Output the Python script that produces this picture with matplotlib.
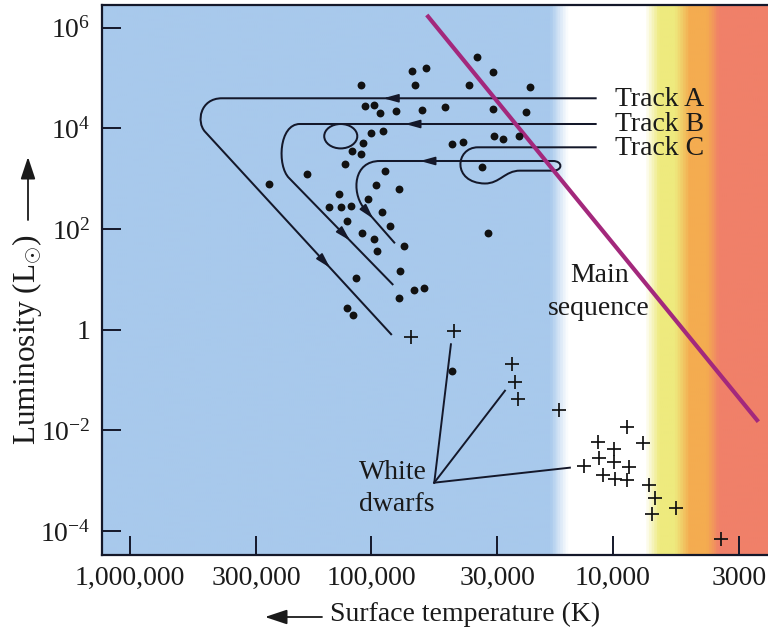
import numpy as np
import matplotlib
matplotlib.use("Agg")
import matplotlib.pyplot as plt
from matplotlib.path import Path
from matplotlib.patches import PathPatch, FancyArrowPatch
from matplotlib.colors import LinearSegmentedColormap, to_rgb

plt.rcParams['font.family'] = ['Liberation Serif', 'DejaVu Serif', 'DejaVu Sans']
plt.rcParams['mathtext.fontset'] = 'custom'
plt.rcParams['mathtext.rm'] = 'Liberation Serif'
plt.rcParams['mathtext.it'] = 'Liberation Serif:italic'
plt.rcParams['mathtext.bf'] = 'Liberation Serif:bold'

# ---------------- data (log10 temperature [K], log10 luminosity [Lsun]) ----------------
x_ticks = [1e6, 3e5, 1e5, 3e4, 1e4, 3e3]
x_ticklabels = ['1,000,000', '300,000', '100,000', '30,000', '10,000', '3000']
y_ticks = [1e6, 1e4, 1e2, 1, 1e-2, 1e-4]
y_ticklabels = [r'$\mathregular{10^{6}}$', r'$\mathregular{10^{4}}$', r'$\mathregular{10^{2}}$',
                '1', r'$\mathregular{10^{-2}}$', r'$\mathregular{10^{-4}}$']
x_limits_log = [6.118, 3.356]
y_limits_log = [-4.476, 6.45]

star_logT = [4.563, 4.833, 4.775, 4.494, 5.043, 4.820, 4.594, 4.342, 5.026, 4.988,
             4.964, 4.899, 4.791, 4.693, 4.497, 4.359, 5.002, 4.950, 4.490, 4.453,
             4.387, 4.667, 4.619, 5.036, 5.081, 5.043, 5.109, 4.542, 5.265, 5.425,
             4.944, 4.979, 4.884, 5.133, 5.015, 5.174, 5.127, 5.083, 4.957, 5.099,
             4.922, 5.040, 4.988, 4.518, 4.864, 4.975, 4.881, 5.063, 4.823, 4.782,
             4.885, 5.102, 5.077, 4.667]
star_logL = [5.423, 5.145, 5.193, 5.125, 4.861, 4.861, 4.861, 4.827, 4.450, 4.464,
             4.299, 4.350, 4.364, 4.430, 4.378, 4.325, 3.913, 3.953, 3.848, 3.782,
             3.854, 3.683, 3.729, 3.703, 3.550, 3.484, 3.286, 3.238, 3.093, 2.888,
             3.159, 2.868, 2.795, 2.696, 2.596, 2.437, 2.443, 2.463, 2.344, 2.159,
             2.060, 1.915, 1.808, 1.915, 1.663, 1.563, 1.166, 1.027, 0.789, 0.822,
             0.636, 0.425, 0.292, -0.820]

wd_logT = [4.837, 4.656, 4.416, 4.404, 4.393, 4.223, 3.939, 4.059, 3.994, 3.875, 4.055,
           3.994, 4.119, 3.931, 4.039, 3.990, 3.939, 3.849, 3.824, 3.836, 3.739, 3.551]
wd_logL = [-0.151, -0.020, -0.681, -1.045, -1.383, -1.595, -1.927, -2.237, -2.370, -2.257, -2.543,
           -2.634, -2.708, -2.733, -2.886, -2.972, -2.986, -3.085, -3.337, -3.667, -3.536, -4.164]

main_seq_logT = [4.770, 3.396]
main_seq_logL = [6.252, -1.828]

M, L, C = Path.MOVETO, Path.LINETO, Path.CURVE4
track_a_logT = [4.066, 5.619, 5.710, 5.726, 5.689, 4.915]
track_a_logL = [4.597, 4.597, 4.597, 4.126, 3.933, -0.105]
track_a_codes = [M, L, C, C, C, L]

track_b_logT = [4.066, 5.296, 5.383, 5.391, 5.341, 4.909]
track_b_logL = [4.086, 4.086, 4.086, 3.252, 3.014, 0.888]
track_b_codes = [M, L, C, C, C, L]

loop_b_logT = [5.058, 5.058, 5.089, 5.127, 5.1645, 5.195, 5.195, 5.195, 5.1645, 5.127, 5.089, 5.058, 5.058]
loop_b_logL = [3.844, 3.978, 4.086, 4.086, 4.086, 3.978, 3.844, 3.710, 3.601, 3.601, 3.601, 3.710, 3.844]
loop_b_codes = [M, C, C, C, C, C, C, C, C, C, C, C, C]

track_c_logT = [4.066, 4.558, 4.653, 4.666, 4.529, 4.467, 4.446, 4.384, 4.247,
                4.206, 4.206, 4.247, 4.964, 5.076, 5.080, 5.034, 4.902]
track_c_logL = [3.623, 3.623, 3.623, 2.914, 2.904, 2.904, 3.159, 3.159, 3.159,
                3.159, 3.351, 3.351, 3.351, 3.351, 2.735, 2.437, 1.716]
track_c_codes = [M, L, C, C, C, C, C, C, L, C, C, C, L, C, C, C, L]

# arrows on tracks: (tail logT, tail logL, tip logT, tip logL)
arrow_tail_logT = [4.902, 4.811, 4.748, 5.204, 5.121, 5.022]
arrow_tail_logL = [4.597, 4.086, 3.351, 1.402, 1.933, 2.370]
arrow_tip_logT = [4.950, 4.860, 4.798, 5.171, 5.088, 4.992]
arrow_tip_logL = [4.597, 4.086, 3.351, 1.230, 1.770, 2.205]

# white dwarf pointer lines
wd_label_anchor = (4.739, -3.039)
wd_pointer_logT = [4.670, 4.446, 4.177]
wd_pointer_logL = [-0.290, -1.212, -2.741]

track_names = ['Track A', 'Track B', 'Track C']
track_label_logT = 3.990
track_label_logL = [4.563, 4.086, 3.609]

# background colour bands (temperature stops, K)
band_temps = [18200, 15300, 7300, 6400, 5500, 4800, 4050, 3600]
band_colors = ['#a8c9ec', '#ffffff', '#ffffff', '#eeea7e', '#eeea7e', '#f4ac50', '#f4ac50', '#f08069']

# ---------------- figure ----------------
W, H = 768, 642
fig = plt.figure(figsize=(W / 100, H / 100), dpi=100)
ax = fig.add_axes([101.5 / W, 87 / H, 666.5 / W, 550 / H])
ax.set_xscale('log')
ax.set_yscale('log')
ax.set_xlim(10 ** x_limits_log[0], 10 ** x_limits_log[1])
ax.set_ylim(10 ** y_limits_log[0], 10 ** y_limits_log[1])

# background gradient
span = x_limits_log[0] - x_limits_log[1]
fracs = [(x_limits_log[0] - np.log10(t)) / span for t in band_temps]
stops = [(0.0, band_colors[0])] + list(zip(fracs, band_colors)) + [(1.0, band_colors[-1])]
cmap = LinearSegmentedColormap.from_list('bands', [(f, to_rgb(c)) for f, c in stops])
grad = np.linspace(0, 1, 1000)[None, :]
ax.imshow(grad, cmap=cmap, aspect='auto', extent=[0, 1, 0, 1], transform=ax.transAxes,
          zorder=0, interpolation='bilinear')

ink = '#14182a'

# main sequence
ax.plot(10 ** np.array(main_seq_logT), 10 ** np.array(main_seq_logL), color='#a3287c',
        lw=3.0, solid_capstyle='butt', zorder=3)

# tracks
def add_path(lt, ll, codes):
    verts = np.column_stack([10 ** np.array(lt), 10 ** np.array(ll)])
    ax.add_patch(PathPatch(Path(verts, codes), fill=False, edgecolor=ink, lw=1.45, zorder=2))

add_path(track_a_logT, track_a_logL, track_a_codes)
add_path(track_b_logT, track_b_logL, track_b_codes)
add_path(loop_b_logT, loop_b_logL, loop_b_codes)
add_path(track_c_logT, track_c_logL, track_c_codes)

for t0, l0, t1, l1 in zip(arrow_tail_logT, arrow_tail_logL, arrow_tip_logT, arrow_tip_logL):
    ax.annotate('', xy=(10 ** t1, 10 ** l1), xytext=(10 ** t0, 10 ** l0),
                arrowprops=dict(arrowstyle='-|>,head_length=0.9,head_width=0.25',
                                color=ink, lw=1.2, shrinkA=0, shrinkB=0, mutation_scale=10),
                zorder=3)

# stars
ax.scatter(10 ** np.array(star_logT), 10 ** np.array(star_logL), s=32, color='#111111',
           linewidths=0, zorder=4)
ax.scatter(10 ** np.array(wd_logT), 10 ** np.array(wd_logL), s=110, marker='+',
           color='#111111', linewidths=1.25, zorder=4)

# white dwarf pointers
for t, l in zip(wd_pointer_logT, wd_pointer_logL):
    ax.plot([10 ** wd_label_anchor[0], 10 ** t], [10 ** wd_label_anchor[1], 10 ** l],
            color=ink, lw=1.4, zorder=3)

fs = 20
txt = '#1a1a1a'
ax.text(10 ** 4.909, 10 ** -2.833, 'White', ha='center', va='center', fontsize=fs, color=txt, zorder=5)
ax.text(10 ** 4.895, 10 ** -3.482, 'dwarfs', ha='center', va='center', fontsize=fs, color=txt, zorder=5)
ax.text(10 ** 4.054, 10 ** 1.085, 'Main', ha='center', va='center', fontsize=fs, color=txt, zorder=5)
ax.text(10 ** 4.058, 10 ** 0.430, 'sequence', ha='center', va='center', fontsize=fs, color=txt, zorder=5)
for name, ll in zip(track_names, track_label_logL):
    ax.text(10 ** track_label_logT, 10 ** ll, name, ha='left', va='center', fontsize=fs,
            color=txt, zorder=5)

# axes styling
ax.set_xticks(x_ticks)
ax.set_xticklabels(x_ticklabels)
ax.set_yticks(y_ticks)
ax.set_yticklabels(y_ticklabels)
ax.minorticks_off()
ax.tick_params(direction='in', length=13.5, width=1.4, pad=8, labelsize=fs,
               color=ink, labelcolor=txt)
for s in ['left', 'bottom', 'top']:
    ax.spines[s].set_color(ink)
    ax.spines[s].set_linewidth(1.6)
ax.spines['right'].set_visible(False)

# axis labels
fig.text(330 / W, 1 - 621 / H, 'Surface temperature (K)', ha='left', va='baseline',
         fontsize=fs, color=txt)
fig.add_artist(FancyArrowPatch(
    (322 / W, 1 - 617 / H), (265 / W, 1 - 617 / H), transform=fig.transFigure,
    arrowstyle='-|>,head_length=0.9,head_width=0.3', mutation_scale=15, color=txt, lw=1.3,
    shrinkA=0, shrinkB=0))
fig.text(35 / W, 1 - 340 / H, r'Luminosity (L$_{\odot}$)', rotation=90, rotation_mode='anchor',
         ha='center', va='baseline', fontsize=22.5, color=txt)
fig.add_artist(FancyArrowPatch(
    (28 / W, 1 - 220 / H), (28 / W, 1 - 157 / H), transform=fig.transFigure,
    arrowstyle='-|>,head_length=0.9,head_width=0.3', mutation_scale=15, color=txt, lw=1.3,
    shrinkA=0, shrinkB=0))

fig.savefig('out.png', dpi=100)
